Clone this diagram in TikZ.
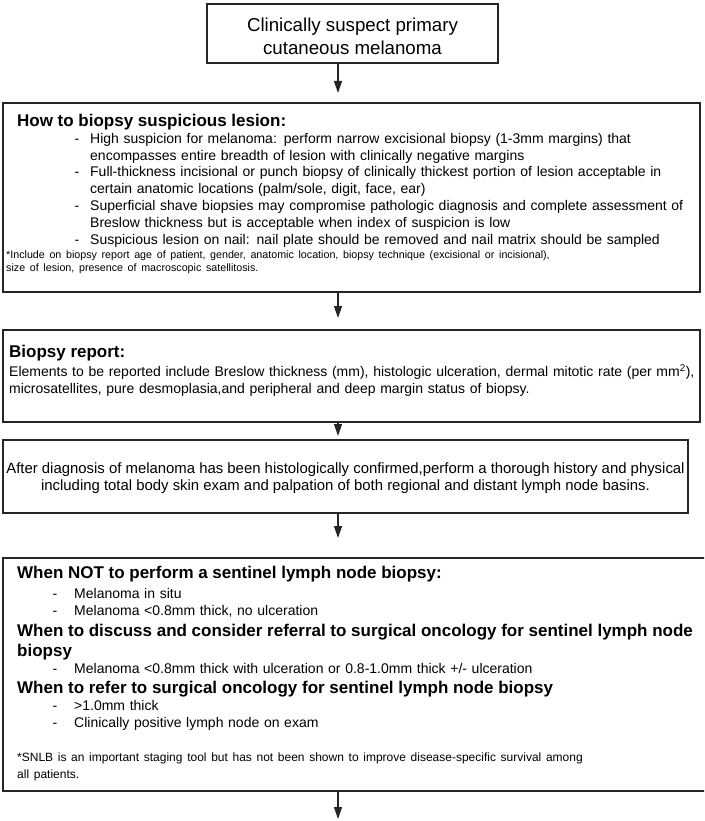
\documentclass[tikz,border=0pt]{standalone}
\usepackage{fontspec}
\setmainfont{Liberation Sans}
\usetikzlibrary{arrows.meta,positioning,calc}
\newcommand{\itm}[3]{{\leftskip=#1pt\noindent\llap{-\hspace{#2pt}}#3\par}}
\newcommand{\ttl}[2][0pt]{{\noindent\hspace*{#1}\bfseries\fontsize{17}{20}\selectfont #2\par}}

\begin{document}
\begin{tikzpicture}[x=1pt,y=-1pt]
\tikzset{box/.style={draw=black!85, line width=1.8pt, anchor=north west, inner sep=0pt, outer sep=0pt}} % outlined boxes
\tikzset{txt/.style={anchor=north west, inner sep=0pt, font=\fontsize{14}{17}\selectfont}} % text set inside a box
\tikzset{flow/.style={draw=black!85, line width=1.3pt, -{Triangle[length=12pt,width=8pt]}}} % arrows down the chart
\useasboundingbox (0,0) rectangle (704,821);
\clip (0,0) rectangle (704,821);
\coordinate (ax) at (338,0); % all arrows run down this line
\node[box, minimum width=291pt, minimum height=59pt, align=center, font=\fontsize{18.7}{23}\selectfont] (top) at (207,4) {\rule{0pt}{19.7pt}Clinically suspect primary\\cutaneous melanoma};
\node[box, minimum width=697pt, minimum height=189pt] (how) at (3,103) {};
\node[txt, text width=693pt, font=\fontsize{14}{16.8}\selectfont] (howtxt) at ([shift={(3,11)}]how.north west) {%
\ttl[11pt]{How to biopsy suspicious lesion:}
\itm{84}{11}{High suspicion for melanoma: perform narrow excisional biopsy (1-3mm margins) that\\encompasses entire breadth of lesion with clinically negative margins}
\itm{84}{11}{Full-thickness incisional or punch biopsy of clinically thickest portion of lesion acceptable in\\certain anatomic locations (palm/sole, digit, face, ear)}
\itm{84}{11}{Superficial shave biopsies may compromise pathologic diagnosis and complete assessment of\\Breslow thickness but is acceptable when index of suspicion is low}
\itm{84}{11}{Suspicious lesion on nail: nail plate should be removed and nail matrix should be sampled}
\vspace{1.2pt}
{\noindent\fontsize{10.7}{13}\selectfont *Include on biopsy report age of patient, gender, anatomic location, biopsy technique (excisional or incisional),\\size of lesion, presence of macroscopic satellitosis.\par}};
\node[box, minimum width=697pt, minimum height=92pt] (report) at (3,330) {};
\node[txt, text width=693pt] (reporttxt) at ([shift={(6,15)}]report.north west) {%
\ttl{Biopsy report:}
\vspace{2pt}
{\noindent Elements to be reported include Breslow thickness (mm), histologic ulceration, dermal mitotic rate (per mm\textsuperscript{2}),\\microsatellites, pure desmoplasia,and peripheral and deep margin status of biopsy.\par}};
\node[box, minimum width=685pt, minimum height=73pt, align=center, font=\fontsize{14.9}{17}\selectfont] (exam) at (3,440) {\rule{0pt}{14.9pt}After diagnosis of melanoma has been histologically confirmed,perform a thorough history and physical\\including total body skin exam and palpation of both regional and distant lymph node basins.};
\node[box, minimum width=709pt, minimum height=233pt] (slnb) at (3,558) {};
\node[txt, text width=683pt] (slnbtxt) at ([shift={(14,8)}]slnb.north west) {%
\ttl{When NOT to perform a sentinel lymph node biopsy:}
\vspace{3pt}
\itm{57}{17}{Melanoma in situ}
\itm{57}{17}{Melanoma <0.8mm thick, no ulceration}
\vspace{1pt}
\ttl{When to discuss and consider referral to surgical oncology for sentinel lymph node\\biopsy}
\itm{57}{17}{Melanoma <0.8mm thick with ulceration or 0.8-1.0mm thick +/- ulceration}
\ttl{When to refer to surgical oncology for sentinel lymph node biopsy}
\itm{57}{17}{>1.0mm thick}
\itm{57}{17}{Clinically positive lymph node on exam}
\vspace{17pt}
{\noindent\fontsize{12}{17}\selectfont *SNLB is an important staging tool but has not been shown to improve disease-specific survival among\\all patients.\par}};
\coordinate (tail) at (338,819); % loose end of the last arrow
\draw[flow, shorten >=10pt] (top.south -| ax) -- (how.north -| ax);
\draw[flow, shorten >=12pt] (how.south -| ax) -- (report.north -| ax);
\draw[flow, shorten >=4pt] (report.south -| ax) -- (exam.north -| ax);
\draw[flow, shorten >=20pt] (exam.south -| ax) -- (slnb.north -| ax);
\draw[flow] (slnb.south -| ax) -- (tail);
\end{tikzpicture}
\end{document}
